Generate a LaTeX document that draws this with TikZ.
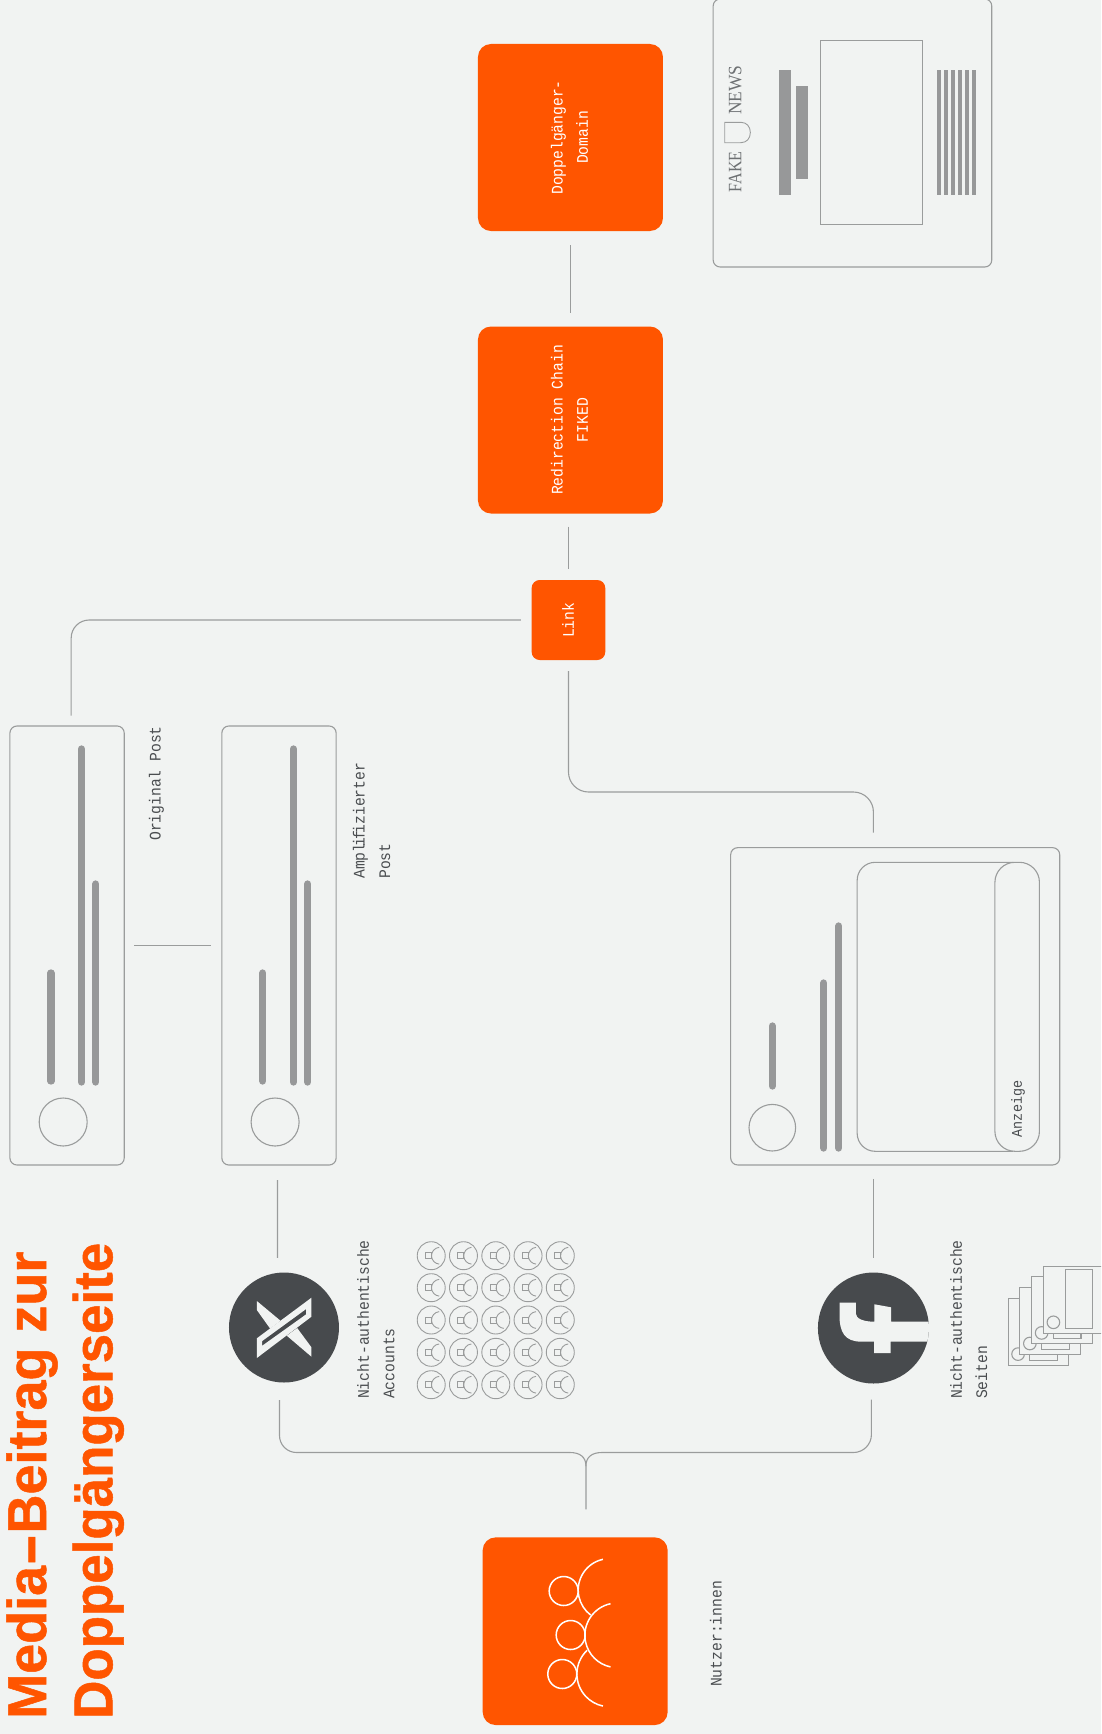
\documentclass[tikz,border=0pt]{standalone}
\usepackage{fontspec}
\setmainfont{Liberation Sans}
\newfontfamily\titlefont[FakeStretch=0.965,BoldFeatures={FakeBold=0.9}]{Liberation Sans}
\newfontfamily\titlefontb[FakeStretch=0.985,BoldFeatures={FakeBold=0.9}]{Liberation Sans}
\newfontfamily\monofont[FakeStretch=0.91]{Liberation Mono}
\newfontfamily\newsfont[FakeStretch=0.85]{Liberation Serif}
\newfontfamily\newsfontb[FakeStretch=0.92]{Liberation Serif}
\definecolor{bgc}{HTML}{F1F3F2}
\definecolor{orangec}{HTML}{FF5500}
\definecolor{linec}{HTML}{9A9C9C}
\definecolor{barc}{HTML}{979899}
\definecolor{darkc}{HTML}{474A4D}
\definecolor{labelc}{HTML}{4A4D50}
\tikzset{
  orangebox/.style={fill=orangec,rounded corners=13bp,inner sep=0bp,outer sep=0bp},
  linkbox/.style={fill=orangec,rounded corners=8bp,inner sep=0bp,outer sep=0bp},
  framebox/.style={draw=linec,line width=1.1bp,rounded corners=7bp,inner sep=0bp,outer sep=0bp},
  conn/.style={draw=linec,line width=1.1bp},
  thinl/.style={draw=linec,line width=1.1bp},
  bar/.style={draw=barc,line width=7.3bp,line cap=round},
  lab/.style={rotate=90,inner sep=0bp,align=left,anchor=base west,text=labelc,font=\monofont\fontsize{16.2}{25.4}\selectfont},
  whitelab/.style={rotate=90,inner sep=0bp,align=center,text=white,font=\monofont\fontsize{16.2}{25.4}\selectfont},
  titlelab/.style={rotate=90,inner sep=0bp,align=left,anchor=base west,text=orangec,font=\titlefont\bfseries\fontsize{55}{66.5}\selectfont},
  logo/.style={circle,fill=darkc,inner sep=0bp,outer sep=0bp,minimum size=110bp},
}
\begin{document}
\begin{tikzpicture}[x=0.9982bp,y=-1bp]
\useasboundingbox (0,0) rectangle (1103,1734);
\fill[bgc] (0,0) rectangle (1103,1734);
\clip (0,0) rectangle (1103,1734);

% title
\node[titlelab] (title) at (112.5,1719) {{\titlefontb\bfseries Media\scalebox{1.8}[1]{-}Beitrag zur}\\Doppelgängerseite};

% orange boxes
\node[orangebox,minimum width=185bp,minimum height=187bp] (domain) at (571.5,137.5) {};
\node[whitelab] (domainlab) at (570.5,137.5) {Doppelgänger-\\Domain};
\node[orangebox,minimum width=185bp,minimum height=187bp] (redir) at (571.5,420) {};
\node[whitelab] (redirlab) at (570.5,420) {Redirection Chain\\FIKED};
\node[linkbox,minimum width=73.6bp,minimum height=80bp] (link) at (569.5,620) {};
\node[whitelab] (linklab) at (569,620.3) {Link};
\node[orangebox,minimum width=185bp,minimum height=187.7bp] (users) at (576.2,1631.2) {};

% users icon
\begin{scope}[white,line width=1.5bp]
  \draw (564.7,1591) circle[radius=14.5bp];
  \draw (571.7,1635) circle[radius=14.5bp];
  \draw (563.3,1674) circle[radius=14.5bp];
  \draw ([shift={(102.3:31.4bp)}]610.7,1590) arc[start angle=102.3,end angle=233,radius=31.4bp];
  \draw ([shift={(101.9:32.3bp)}]618.3,1635.3) arc[start angle=101.9,end angle=258.1,radius=32.3bp];
  \draw ([shift={(133.3:32.7bp)}]610.7,1674) arc[start angle=133.3,end angle=258.2,radius=32.7bp];
\end{scope}
\node[lab] (userslab) at (723,1687) {Nutzer:innen};

% posts
\foreach \dx/\nm in {0/post1,212.3/post2}{
  \node[framebox,minimum width=114.3bp,minimum height=439bp] (\nm) at (67.2+\dx,945.5) {};
  \draw[thinl] (63.3+\dx,1122) circle[radius=24bp];
  \draw[bar] (51+\dx,973) -- (51+\dx,1081);
  \draw[bar] (81.7+\dx,749) -- (81.7+\dx,1082);
  \draw[bar] (96+\dx,884) -- (96+\dx,1082);
}
\node[lab] (origlab) at (161,841) {Original Post};
\node[lab] (amplab) at (390.7,879) {Ampl\kern-2.5pt i\kern-2.5pt f\kern-2.5pt izierter\\Post};

% X logo
\node[logo] (xc) at (284.5,1327.5) {};
\fill[bgc] (257.3,1301) -- (281,1320.7) -- (270.7,1328.7) -- (257.3,1310) -- cycle
  (287.3,1335.7) -- (297.7,1328) -- (312,1347.3) -- (312,1356.7) -- cycle;
\fill[bgc,even odd rule] (257.3,1338.3) -- (312,1297.7) -- (312,1316.7) -- (257.3,1358) -- cycle
  (262.7,1341) -- (306.7,1309) -- (306.7,1314.3) -- (262.7,1345.7) -- cycle;
\node[lab] (acclab) at (395,1399) {Nicht-authentische\\Accounts};

% account grid
\foreach \cx in {432,464.3,496.7,529,561.3}{
  \foreach \cy in {1255.7,1287.7,1320,1352.3,1384.7}{
    \draw[thinl,line width=0.9bp] (\cx,\cy) circle[radius=14bp];
    \draw[thinl,line width=0.9bp] (\cx-5.7,\cy-3) rectangle (\cx+0.3,\cy+3);
    \draw[thinl,line width=0.9bp] ([shift={(95:8.4bp)}]\cx+8.7,\cy) arc[start angle=95,end angle=265,radius=8.4bp];
  }
}

% facebook logo
\node[logo,minimum size=111bp] (fb) at (875,1328) {};
\begin{scope}
  \clip (875,1328) circle[radius=55.5bp];
  \fill[bgc] (841,1302.7) -- (857.3,1302.7) -- (857.3,1313.3)
    .. controls (857.3,1318.7) and (865,1321.7) .. (876,1321.7)
    -- (876,1304.3) -- (892.7,1307.3) -- (892.7,1321.7) -- (933,1321.7) -- (933,1341.7)
    -- (892.3,1341.7) -- (892.3,1353) -- (875.7,1353) -- (875.7,1341.7) -- (863.3,1341.7)
    .. controls (846,1341.7) and (841,1332) .. (841,1315) -- cycle;
\end{scope}
\node[lab] (pageslab) at (989,1399) {Nicht-authentische\\Seiten};

% page stack
\foreach \k in {3,2,1,0}{
  \begin{scope}[shift={(-11.8*\k,10.6*\k)}]
    \filldraw[thinl,fill=bgc] (1045.3,1266.3) rectangle (1106,1333.3);
    \draw[thinl] (1067,1269.3) rectangle (1094.7,1328.3);
    \draw[thinl] (1055.3,1322.3) circle[radius=6.3bp];
  \end{scope}
}

% ad post
\node[framebox,minimum width=329bp,minimum height=317.3bp] (ad) at (896.8,1006.3) {};
\draw[thinl] (773.7,1127.7) circle[radius=23.3bp];
\draw[bar] (773.7,1026) -- (773.7,1086);
\draw[bar] (825.3,983) -- (825.3,1148);
\draw[bar] (840.3,926) -- (840.3,1148);
\draw[thinl,rounded corners=18bp] (1015,862.3) -- (858.7,862.3) -- (858.7,1151.3) -- (1015,1151.3);
\draw[thinl,rounded corners=20bp] (996.7,862.3) rectangle (1041.3,1151.3);
\node[lab,font=\monofont\fontsize{14.8}{18}\selectfont] (adlab) at (1023.7,1137.3) {Anzeige};

% fake news page
\node[framebox,minimum width=278.6bp,minimum height=268bp] (news) at (854,133) {};
\draw[thinl] (821.7,40.3) rectangle (924,224.3);
\fill[barc] (780,70) rectangle (792,195);
\fill[barc] (797,86) rectangle (809,179);
\foreach \sx in {939,946,953,960,967,974}{
  \fill[barc] (\sx,70) rectangle (\sx+4,195);
}
\node[rotate=90,inner sep=0bp,anchor=base west,text=labelc!80,font=\newsfont\fontsize{19}{20}\selectfont] (fake) at (742.7,192.3) {FAKE};
\node[rotate=90,inner sep=0bp,anchor=base west,text=labelc!80,font=\newsfontb\fontsize{19}{20}\selectfont] (newsw) at (742.7,115) {NEWS};
\draw[thinl,line width=0.9bp] (726,122.3) -- (742,122.3) .. controls (748,122.3) and (751.7,126.5) .. (751.7,132.5) .. controls (751.7,138.5) and (748,142.7) .. (742,142.7) -- (726,142.7) -- cycle;

% connectors
\draw[conn,shorten <=14bp,shorten >=14bp] (domain.south) -- (redir.north);
\draw[conn,shorten <=13bp,shorten >=11.5bp] (link.north |- redir.south) -- (link.north);
\draw[conn,rounded corners=18bp,shorten <=10.7bp,shorten >=10.4bp] (link.west) -| ([xshift=4.1bp]post1.north);
\draw[conn,rounded corners=20bp,shorten <=11bp,shorten >=15bp] (link.south) |- (875,792) -- ([xshift=-21.8bp]ad.north);
\draw[conn,shorten <=10bp,shorten >=11bp] (post1.east) -- (post2.west);
\draw[conn,shorten <=15bp,shorten >=14.7bp] ([xshift=-1.5bp]post2.south) -- ([xshift=-6.5bp]xc.north);
\draw[conn,shorten <=14bp,shorten >=14.5bp] (fb.north |- ad.south) -- (fb.north);
\coordinate (merge) at (587,1466);
\coordinate (joinl) at (571,1452.5);
\coordinate (joinr) at (603,1452.5);
\draw[conn,rounded corners=17bp,shorten <=17.5bp] ([xshift=-4.5bp]xc.south) -- (280,1452.5) -- (joinl);
\draw[conn,rounded corners=18bp,shorten <=16bp] ([xshift=-2bp]fb.south) -- (873,1452.5) -- (joinr);
\draw[conn] (joinl) .. controls (581,1452.5) and (587,1457) .. (merge);
\draw[conn] (joinr) .. controls (593,1452.5) and (587,1457) .. (merge);
\draw[conn,shorten >=28bp] (merge) -- ([xshift=10.8bp]users.north);
\end{tikzpicture}
\end{document}
